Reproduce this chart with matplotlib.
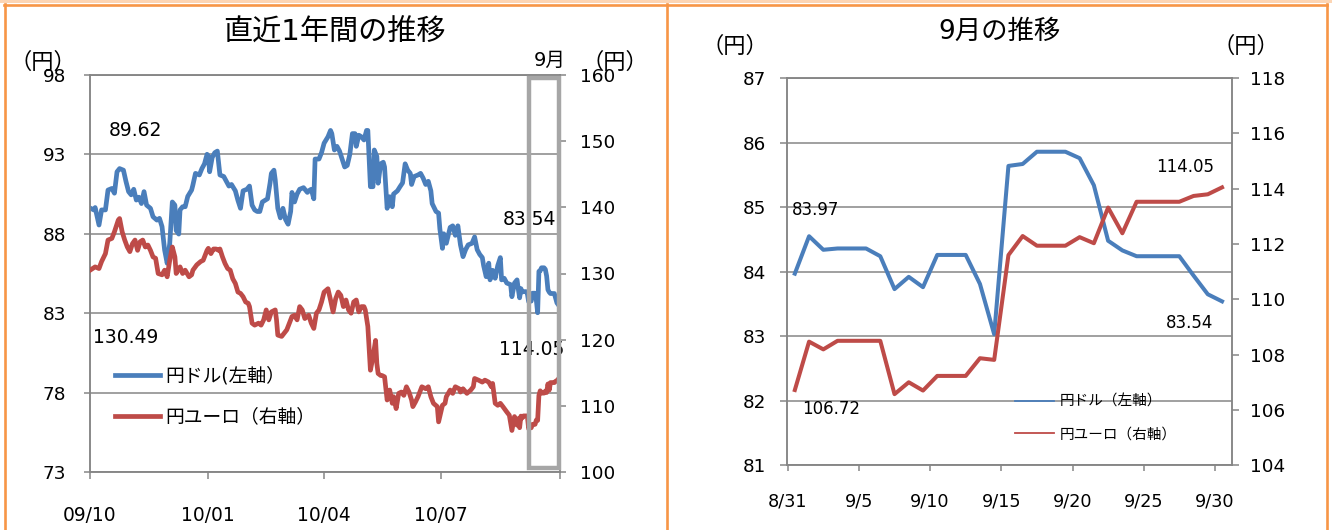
import numpy as np
import matplotlib
matplotlib.use("Agg")
import matplotlib.pyplot as plt
from matplotlib.lines import Line2D
from matplotlib.patches import Rectangle

plt.rcParams['font.family'] = ['DejaVu Sans', 'Noto Sans CJK JP']

# ---------------- data ----------------
year_start = '2009-10-01'
year_end = '2010-10-01'

# 1-year chart: day offsets from 2009-10-01 (up to 2010-08-30) and values
usd_days = [0, 3, 4, 7, 9, 12, 14, 17, 19, 21, 23, 26, 28, 30, 32, 34, 36, 38, 40, 42,
            44, 47, 49, 52, 54, 56, 58, 60, 62, 64, 66, 67, 69, 70, 72, 74, 76, 79, 80, 82,
            85, 87, 89, 91, 92, 93, 95, 97, 99, 101, 104, 106, 108, 110, 113, 115, 117, 119, 122, 124,
            126, 128, 130, 132, 134, 136, 138, 140, 141, 143, 144, 146, 148, 150, 152, 154, 156, 157, 159, 161,
            163, 166, 169, 170, 172, 174, 175, 178, 180, 182, 185, 187, 188, 190, 192, 194, 196, 198, 200, 202,
            204, 206, 207, 209, 211, 213, 215, 216, 218, 220, 221, 223, 224, 226, 228, 229, 231, 233, 235, 236,
            239, 241, 243, 245, 247, 249, 250, 252, 255, 257, 259, 261, 263, 265, 266, 269, 271, 272, 274, 275,
            277, 280, 282, 284, 286, 288, 290, 292, 294, 297, 299, 301, 303, 305, 306, 308, 310, 311, 313, 315,
            317, 319, 320, 322, 324, 327, 328, 330, 332, 333]
usd_year = [89.62, 89.50, 89.65, 88.55, 89.50, 89.50, 90.75, 90.85, 90.55, 91.90, 92.10, 92.00, 91.28, 90.65, 90.45, 90.80, 90.12, 90.30, 89.90, 90.65,
            89.80, 89.60, 89.07, 88.86, 88.97, 88.45, 86.98, 86.14, 87.40, 90.00, 89.80, 88.20, 87.98, 89.50, 89.70, 89.70, 90.35, 90.75, 91.07, 91.80,
            91.70, 92.10, 92.40, 93.00, 92.90, 91.90, 92.80, 93.10, 93.20, 91.70, 91.60, 91.30, 91.00, 91.10, 90.70, 90.10, 89.60, 90.70, 90.80, 91.00,
            89.80, 89.50, 89.40, 89.40, 90.00, 90.10, 90.20, 91.20, 91.80, 92.00, 91.40, 89.60, 89.00, 89.60, 88.90, 88.60, 89.40, 90.60, 90.00, 90.50,
            90.80, 90.90, 90.60, 90.70, 90.80, 90.20, 92.70, 92.70, 93.10, 93.70, 94.10, 94.50, 94.30, 93.27, 93.50, 93.20, 92.70, 92.20, 92.30, 93.00,
            94.30, 94.30, 93.50, 94.20, 94.10, 93.90, 94.50, 94.50, 90.96, 90.96, 93.27, 92.86, 91.18, 92.40, 92.50, 92.20, 89.60, 90.33, 89.70, 90.50,
            90.70, 90.96, 91.20, 92.40, 92.00, 91.80, 91.10, 91.60, 91.70, 91.80, 91.50, 91.10, 91.30, 90.70, 89.90, 89.40, 89.30, 88.30, 87.08, 88.00,
            87.40, 88.40, 88.50, 87.90, 88.50, 87.30, 86.56, 87.00, 87.30, 87.40, 87.80, 87.00, 86.70, 86.50, 86.00, 85.30, 86.15, 85.10, 85.70, 85.20,
            86.00, 86.50, 85.10, 85.20, 84.90, 84.80, 84.04, 84.90, 85.10, 84.50]

eur_days = [0, 4, 7, 9, 12, 14, 17, 19, 22, 23, 25, 27, 29, 31, 33, 35, 37, 39, 41, 43,
            45, 47, 49, 51, 53, 56, 58, 60, 62, 64, 66, 67, 70, 72, 74, 77, 79, 80, 83, 86,
            88, 91, 92, 94, 96, 98, 100, 101, 103, 105, 107, 109, 111, 113, 115, 117, 119, 121, 123, 124,
            126, 128, 131, 133, 135, 137, 139, 141, 144, 145, 146, 149, 151, 153, 155, 157, 159, 161, 163, 165,
            167, 170, 172, 174, 176, 178, 180, 182, 185, 187, 189, 191, 193, 195, 197, 199, 201, 203, 205, 207,
            209, 211, 213, 214, 216, 218, 220, 222, 223, 224, 226, 227, 229, 231, 233, 235, 236, 238, 240, 242,
            244, 246, 248, 250, 251, 253, 255, 258, 261, 263, 265, 267, 270, 271, 274, 276, 277, 280, 282, 284,
            287, 288, 290, 293, 296, 298, 299, 302, 305, 307, 310, 312, 313, 315, 317, 319, 321, 324, 326, 328,
            330, 332, 333]
eur_year = [130.49, 131.00, 130.75, 131.80, 133.00, 135.05, 135.30, 136.30, 138.07, 138.30, 136.30, 135.05, 134.00, 133.30, 134.50, 135.05, 133.50, 134.80, 135.05, 134.00,
            134.30, 133.50, 132.50, 132.30, 130.00, 129.80, 130.50, 129.50, 132.00, 134.00, 132.50, 130.00, 131.00, 130.00, 130.50, 129.50, 129.80, 130.50, 131.30, 131.80,
            132.00, 133.50, 133.80, 133.00, 133.70, 133.70, 133.50, 133.70, 132.50, 131.50, 130.75, 130.50, 129.20, 128.50, 127.20, 127.00, 126.50, 125.70, 125.50, 125.00,
            122.50, 122.20, 122.50, 122.20, 123.00, 124.50, 123.00, 124.20, 124.50, 123.00, 120.70, 120.50, 121.00, 121.50, 122.50, 123.50, 123.70, 123.00, 125.00, 124.50,
            123.20, 123.70, 122.50, 121.70, 124.00, 124.50, 125.70, 127.20, 127.70, 126.00, 124.20, 126.20, 127.20, 126.70, 125.00, 126.00, 124.50, 124.00, 125.70, 126.00,
            124.20, 125.00, 125.00, 124.50, 122.00, 115.40, 117.40, 119.90, 116.40, 114.90, 114.60, 114.60, 114.40, 110.90, 112.40, 110.40, 111.40, 109.60, 111.90, 112.10,
            111.60, 112.90, 112.10, 110.90, 109.90, 110.60, 111.40, 112.90, 112.60, 112.90, 111.40, 110.40, 109.90, 107.60, 110.10, 110.40, 111.40, 112.40, 111.90, 112.90,
            112.60, 112.10, 112.60, 111.90, 112.40, 112.90, 114.15, 113.90, 113.60, 113.90, 113.60, 112.90, 113.40, 110.40, 110.10, 110.40, 109.90, 109.10, 108.60, 106.30,
            108.40, 107.10, 108.10]

# September chart: daily values 2010-08-31 .. 2010-09-30
sep_start_day = 334  # 2010-08-31 as offset from 2009-10-01
sep_usd = [83.97, 84.55, 84.34, 84.36, 84.36, 84.36, 84.24, 83.73, 83.92, 83.76,
           84.26, 84.26, 84.26, 83.81, 83.03, 85.64, 85.67, 85.86, 85.86, 85.86,
           85.76, 85.34, 84.48, 84.33, 84.24, 84.24, 84.24, 84.24, 83.94, 83.65, 83.54]
sep_eur = [106.72, 108.47, 108.19, 108.50, 108.50, 108.50, 108.50, 106.57, 107.00, 106.70,
           107.23, 107.23, 107.23, 107.87, 107.81, 111.60, 112.29, 111.94, 111.94, 111.94,
           112.25, 112.03, 113.32, 112.39, 113.53, 113.53, 113.53, 113.53, 113.74, 113.80, 114.05]

year_tick_dates = ['2009-10-01', '2010-01-01', '2010-04-01', '2010-07-01', '2010-10-01']
year_tick_labels = ['09/10', '10/01', '10/04', '10/07', '']
sep_tick_days = [0, 5, 10, 15, 20, 25, 30]
sep_tick_labels = ['8/31', '9/5', '9/10', '9/15', '9/20', '9/25', '9/30']
year_usd_ticks = [73, 78, 83, 88, 93, 98]
year_eur_ticks = [100, 110, 120, 130, 140, 150, 160]
sep_usd_ticks = [81, 82, 83, 84, 85, 86, 87]
sep_eur_ticks = [104, 106, 108, 110, 112, 114, 116, 118]

legend_year = ['円ドル(左軸）', '円ユーロ（右軸）']
legend_sep = ['円ドル（左軸）', '円ユーロ（右軸）']
title_year = '直近1年間の推移'
title_sep = '9月の推移'
unit = '（円）'
sep_mark = '9月'

# ---------------- style ----------------
BLUE = '#4A7EBB'
RED = '#BE4B48'
GRID = '#868686'
ORANGE = '#F79646'
W, H = 1332, 530

fig = plt.figure(figsize=(W / 100, H / 100), dpi=100)


def fx(x):
    return x / W


def fy(y):
    return 1 - y / H


def style_axes(ax, twin):
    for a in (ax, twin):
        for s in a.spines.values():
            s.set_color(GRID)
            s.set_linewidth(1.1)


# ---------- left chart: 1 year ----------
ax1 = fig.add_axes([fx(90), fy(472.2), fx(469.5), 397.4 / H])
ax1r = ax1.twinx()
start = np.datetime64(year_start)
usd_x = start + np.array(usd_days + [sep_start_day + i for i in range(len(sep_usd))]).astype('timedelta64[D]')
eur_x = start + np.array(eur_days + [sep_start_day + i for i in range(len(sep_eur))]).astype('timedelta64[D]')
usd_all = usd_year + sep_usd
eur_all = eur_year + sep_eur

ax1.plot(usd_x, usd_all, color=BLUE, lw=3.4, solid_joinstyle='round', zorder=3)
ax1r.plot(eur_x, eur_all, color=RED, lw=3.4, solid_joinstyle='round', zorder=3)
ax1.set_xlim(start, np.datetime64(year_end))
ax1.set_ylim(year_usd_ticks[0], year_usd_ticks[-1])
ax1r.set_ylim(year_eur_ticks[0], year_eur_ticks[-1])
ax1.set_yticks(year_usd_ticks)
ax1r.set_yticks(year_eur_ticks)
ax1.set_xticks(np.array(year_tick_dates, dtype='datetime64[D]'))
ax1.set_xticklabels(year_tick_labels)
ax1.grid(axis='y', color=GRID, lw=1.1)
ax1.set_axisbelow(True)
ax1.tick_params(axis='y', direction='out', length=4, width=1.1, color=GRID, pad=13, labelsize=13.3)
ax1.tick_params(axis='x', direction='out', length=5, width=1.1, color=GRID, pad=19, labelsize=13.4)
ax1r.tick_params(axis='y', direction='out', length=4, width=1.1, color=GRID, pad=11, labelsize=13.3)
style_axes(ax1, ax1r)

# value labels
ax1r.text(0.096, 0.859, f'{usd_all[0]:.2f}', transform=ax1r.transAxes, ha='center', va='center', fontsize=13.5, zorder=4)
ax1r.text(0.076, 0.338, f'{eur_all[0]:.2f}', transform=ax1r.transAxes, ha='center', va='center', fontsize=13.5, zorder=4)
ax1r.text(0.936, 0.635, f'{usd_all[-1]:.2f}', transform=ax1r.transAxes, ha='center', va='center', fontsize=13.5, zorder=4)
ax1r.text(0.94, 0.3075, f'{eur_all[-1]:.2f}', transform=ax1r.transAxes, ha='center', va='center', fontsize=13.5, zorder=4)

# September box
box = Rectangle((0.936, 0.0106), 0.0635, 0.981, transform=ax1r.transAxes, fill=False,
                edgecolor='#A6A6A6', lw=3.2, clip_on=False, zorder=10)
ax1r.add_patch(box)

# legend
h1 = [Line2D([], [], color=BLUE, lw=3.4), Line2D([], [], color=RED, lw=3.4)]
ax1r.legend(h1, legend_year, loc='upper left', bbox_to_anchor=(0.053, 0.265), frameon=False,
            fontsize=13.5, handlelength=2.4, handletextpad=0.3, labelspacing=1.15,
            borderpad=0, borderaxespad=0)

# ---------- right chart: September ----------
ax2 = fig.add_axes([fx(787), fy(465.2), fx(445), 387 / H])
ax2r = ax2.twinx()
sep_x = np.arange(len(sep_usd)) + 0.5
ax2.plot(sep_x, sep_usd, color=BLUE, lw=2.9, solid_joinstyle='round', zorder=3)
ax2r.plot(sep_x, sep_eur, color=RED, lw=2.9, solid_joinstyle='round', zorder=3)
ax2.set_xlim(-0.05, 31.2)
ax2.set_ylim(sep_usd_ticks[0], sep_usd_ticks[-1])
ax2r.set_ylim(sep_eur_ticks[0], sep_eur_ticks[-1])
ax2.set_yticks(sep_usd_ticks)
ax2r.set_yticks(sep_eur_ticks)
ax2.set_xticks(sep_tick_days)
ax2.set_xticklabels(sep_tick_labels)
ax2.grid(axis='y', color=GRID, lw=1.1)
ax2.set_axisbelow(True)
ax2.tick_params(axis='y', direction='out', length=5, width=1.1, color=GRID, pad=10, labelsize=13.2)
ax2.tick_params(axis='x', direction='out', length=4, width=1.1, color=GRID, pad=16, labelsize=12.7)
ax2r.tick_params(axis='y', direction='out', length=5, width=1.1, color=GRID, pad=8, labelsize=13.2)
style_axes(ax2, ax2r)

ax2r.text(0.064, 0.659, f'{sep_usd[0]:.2f}', transform=ax2r.transAxes, ha='center', va='center', fontsize=12)
ax2r.text(0.10, 0.145, f'{sep_eur[0]:.2f}', transform=ax2r.transAxes, ha='center', va='center', fontsize=12)
ax2r.text(0.894, 0.771, f'{sep_eur[-1]:.2f}', transform=ax2r.transAxes, ha='center', va='center', fontsize=12)
ax2r.text(0.904, 0.367, f'{sep_usd[-1]:.2f}', transform=ax2r.transAxes, ha='center', va='center', fontsize=12)

h2 = [Line2D([], [], color=BLUE, lw=1.3), Line2D([], [], color=RED, lw=1.3)]
ax2r.legend(h2, legend_sep, loc='upper left', bbox_to_anchor=(0.512, 0.185), frameon=False,
            fontsize=10.5, handlelength=2.7, handletextpad=0.4, labelspacing=1.2,
            borderpad=0, borderaxespad=0)

# ---------- titles & units ----------
fig.text(fx(334), fy(33), title_year, ha='center', va='center', fontsize=21)
fig.text(fx(1000), fy(32), title_sep, ha='center', va='center', fontsize=19)
fig.text(fx(43), fy(62), unit, ha='center', va='center', fontsize=16)
fig.text(fx(615), fy(62), unit, ha='center', va='center', fontsize=16)
fig.text(fx(550), fy(60), sep_mark, ha='center', va='center', fontsize=14)
fig.text(fx(735), fy(46), unit, ha='center', va='center', fontsize=16)
fig.text(fx(1246), fy(46), unit, ha='center', va='center', fontsize=16)

# ---------- orange frame ----------
fig.add_artist(Rectangle((0, fy(3)), 1, 3 / H, transform=fig.transFigure, color='#FCD5B4', lw=0))
for (x0, y0, x1, y1) in [(4, 4.5, 1327, 4.5), (5, 4, 5, 530), (667, 4, 667, 530), (1327, 4, 1327, 530)]:
    fig.add_artist(Line2D([fx(x0), fx(x1)], [fy(y0), fy(y1)], transform=fig.transFigure,
                          color=ORANGE, lw=1.9))

fig.savefig('out.png', dpi=100)
